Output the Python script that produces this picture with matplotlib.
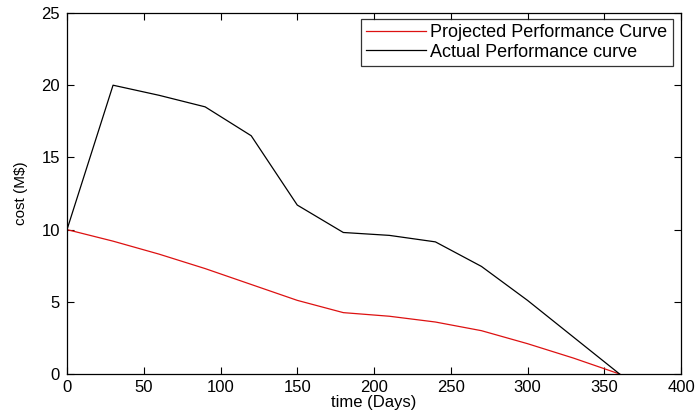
import matplotlib
matplotlib.use("Agg")
import matplotlib.pyplot as plt

plt.rcParams['font.family'] = ['Liberation Sans', 'DejaVu Sans']

days = [0, 30, 60, 90, 120, 150, 180, 210, 240, 270, 300, 330, 360]
projected = [10, 9.2, 8.3, 7.3, 6.2, 5.1, 4.25, 4.0, 3.6, 3.0, 2.1, 1.1, 0]
actual = [10, 20, 19.3, 18.5, 16.5, 11.7, 9.8, 9.6, 9.15, 7.45, 5.1, 2.55, 0]

xticks = [0, 50, 100, 150, 200, 250, 300, 350, 400]
yticks = [0, 5, 10, 15, 20, 25]

fig = plt.figure(figsize=(6.96, 4.16), dpi=100)
ax = fig.add_axes([67/696, 42/416, (681-67)/696, (374-13)/416])

ax.plot(days, projected, color='#dd1111', lw=0.9, label='Projected Performance Curve')
ax.plot(days, actual, color='black', lw=0.9, label='Actual Performance curve')

ax.set_xlim(0, 400)
ax.set_ylim(0, 25)
ax.set_xticks(xticks)
ax.set_yticks(yticks)
ax.tick_params(axis='both', direction='in', top=True, right=True, length=5,
               width=0.8, labelsize=12)
ax.tick_params(axis='x', pad=4)
ax.tick_params(axis='y', pad=5)
for s in ax.spines.values():
    s.set_linewidth(0.9)
ax.set_xlabel('time (Days)', fontsize=12, labelpad=0)
ax.set_ylabel('cost (M$)', fontsize=11, labelpad=10)

leg = ax.legend(loc='upper right', bbox_to_anchor=((673-67)/614, (374-19)/361),
                fontsize=13, frameon=True, fancybox=False,
                edgecolor='black', borderaxespad=0, handlelength=3.3,
                handletextpad=0.25, labelspacing=0.12, borderpad=0.3)
leg.get_frame().set_linewidth(0.9)

fig.savefig('out.png', dpi=100)
